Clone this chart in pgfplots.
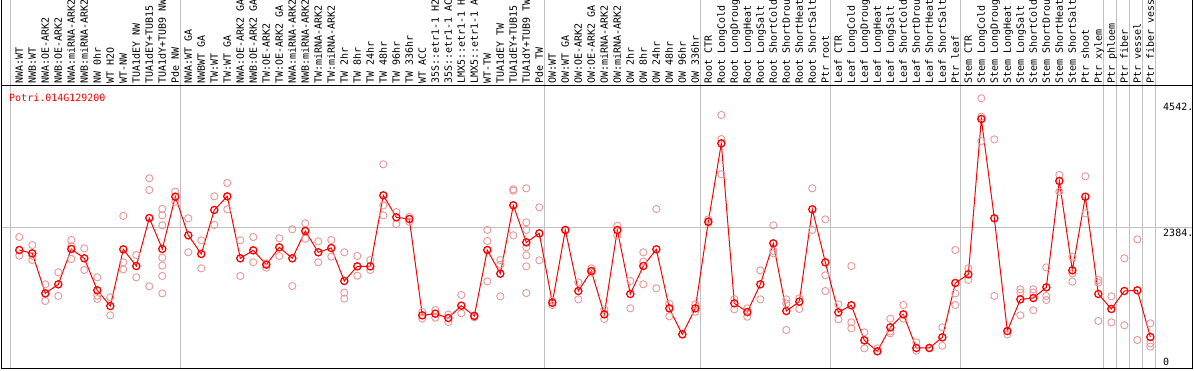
\documentclass[border=0pt]{standalone}
\usepackage{pgfplots}
\pgfplotsset{compat=1.18}
\usepackage{fontspec}
\newfontfamily\mono{DejaVu Sans Mono}
\definecolor{gridgray}{RGB}{192,192,192}
\definecolor{reppink}{RGB}{232,150,150}
\definecolor{meanred}{RGB}{255,0,0}
\begin{document}
\begin{tikzpicture}
% vertical group separators (full height)
\foreach \gx in {10.3,180.3,544.3,700.3,830.5,960.5,1103.3,1116.5,1129.4,1142.6,1155.4}{
  \draw[gridgray, line width=1pt] (\gx pt,1.5pt) -- (\gx pt,370pt);
}
\begin{axis}[
  at={(1.5pt,1.5pt)}, anchor=south west,
  scale only axis, width=1191pt, height=282.5pt,
  xmin=-1.369, xmax=90.246, ymin=-25.7, ymax=4819,
  xtick=\empty, ytick={2384}, yticklabels={},
  major tick length=0pt,
  ymajorgrids, grid style={draw=gridgray, line width=1pt},
  axis line style={line width=1pt, black},
  clip=false,
]
\addplot[only marks, mark=o, mark size=3.6pt, mark options={draw=reppink, line width=0.9pt}] coordinates {
(0,2229)(0,1909)
(1,2092)(1,1909)(1,1835)
(2,1418)(2,1132)(2,1263)
(3,1624)(3,1218)
(4,2178)(4,1852)(4,2070)
(5,2035)(5,1664)
(6,1538)(6,1223)(6,1166)
(7,1195)(7,886)
(8,2590)(8,1795)(8,1675)
(9,1921)(9,1538)
(10,3236)(10,3036)(10,1383)
(11,2710)(11,2601)(11,2430)(11,1875)(11,1738)(11,1561)(11,1263)
(12,3007)(12,2835)
(13,2550)(13,1967)
(14,2172)(14,1692)
(15,2927)(15,2435)
(16,3156)(16,2704)
(17,2172)(17,1561)
(18,2229)(18,1795)
(19,1778)(19,1704)
(20,2207)(20,1904)
(21,2361)(21,1389)
(22,2464)(22,2201)
(23,2155)(23,1795)
(24,2178)(24,1892)
(25,1967)(25,1275)(25,1172)
(26,1904)(26,1566)
(27,1835)(27,1664)
(28,3476)(28,2773)(28,2601)
(29,2658)(29,2452)
(30,2578)(30,2492)
(31,943)(31,829)
(32,978)(32,846)
(33,898)(33,772)
(34,1235)(34,920)
(35,886)(35,852)
(36,2350)(36,2161)(36,1469)
(37,1835)(37,1755)(37,1212)
(38,3047)(38,3024)(38,2258)
(39,3064)(39,2481)(39,2350)(39,2052)(39,1915)(39,1726)(39,1269)
(40,2738)(40,1829)
(41,1138)(41,1063)
(42,2350)
(43,1452)(43,1160)
(44,1692)(44,1620)
(45,989)(45,823)
(46,2424)(46,2252)
(47,1475)(47,1006)
(48,1967)(48,1806)(48,1418)
(49,2710)(49,1349)
(50,1086)(50,869)
(51,560)
(52,1075)(52,949)
(53,2532)(53,2470)
(54,4322)(54,3910)(54,3304)
(55,1166)(55,989)
(56,1006)(56,863)
(57,1658)(57,1160)
(58,2430)(58,1989)(58,1950)
(59,1160)(59,1086)(59,635)
(60,1178)(60,995)
(61,3064)(61,2350)
(62,2532)(62,1572)(62,1303)
(63,1075)(63,817)
(64,1732)(64,766)(64,663)
(65,595)(65,320)
(66,320)
(67,829)(67,577)(67,612)
(68,1063)(68,829)
(69,423)(69,280)
(70,326)
(71,680)(71,366)
(72,2006)(72,1263)(72,1063)
(73,1692)(73,1492)
(74,4608)(74,4293)(74,3876)
(75,3904)(75,1218)
(76,560)
(77,1332)(77,1275)(77,886)
(78,1332)(78,1275)(78,972)
(79,1709)(79,1218)(79,1149)
(80,3293)(80,3007)
(81,1892)(81,1606)(81,1463)
(82,3270)(82,2635)
(83,1492)(83,1446)(83,789)
(84,1212)(84,766)
(85,1864)(85,715)
(86,2189)(86,463)
(87,749)(87,406)(87,349)
};
\addplot[meanred, line width=1pt, mark=o, mark size=3.6pt, mark options={draw=meanred, line width=1.3pt}] coordinates {
(0,2006)(1,1949)(2,1263)(3,1418)(4,2024)(5,1864)(6,1315)(7,1046)(8,2018)(9,1732)
(10,2555)(11,2024)(12,2921)(13,2258)(14,1938)(15,2693)(16,2927)(17,1864)(18,2001)(19,1755)
(20,2052)(21,1864)(22,2332)(23,1967)(24,2041)(25,1475)(26,1726)(27,1726)(28,2944)(29,2567)
(30,2538)(31,886)(32,915)(33,840)(34,1052)(35,875)(36,2006)(37,1601)(38,2773)(39,2138)
(40,2292)(41,1103)(42,2350)(43,1303)(44,1646)(45,903)(46,2350)(47,1252)(48,1732)(49,2018)
(50,1006)(51,560)(52,1006)(53,2492)(54,3836)(55,1092)(56,943)(57,1418)(58,2121)(59,960)
(60,1120)(61,2704)(62,1795)(63,938)(64,1058)(65,457)(66,269)(67,680)(68,903)(69,326)
(70,326)(71,509)(72,1441)(73,1589)(74,4253)(75,2550)(76,617)(77,1160)(78,1183)(79,1366)
(80,3190)(81,1658)(82,2921)(83,1252)(84,995)(85,1303)(86,1315)(87,515)
};
\end{axis}
% outer borders (full height)
\draw[black, line width=1pt] (1.5pt,1.5pt) -- (1.5pt,370pt);
\draw[black, line width=1pt] (1192.5pt,1.5pt) -- (1192.5pt,370pt);
% title
\node[anchor=west, inner sep=0pt, text=meanred, font=\mono\fontsize{10}{12}\selectfont] at (9pt,272.5pt) {Potri.014G129200};
% value labels
\node[anchor=west, inner sep=0pt, font=\mono\fontsize{10}{12}\selectfont] at (1163pt,263pt) {4542.};
\node[anchor=west, inner sep=0pt, font=\mono\fontsize{10}{12}\selectfont] at (1163pt,137.3pt) {2384.};
\node[anchor=west, inner sep=0pt, font=\mono\fontsize{10}{12}\selectfont] at (1163pt,8.3pt) {0};
% category labels
\foreach \lab [count=\i from 0] in {NWA:WT,NWB:WT,NWA:OE-ARK2,NWB:OE-ARK2,NWA:miRNA-ARK2,NWB:miRNA-ARK2,NW 0hr,WT H2O,WT-NW,TUA1dEY NW,TUA1dEY+TUB15 NW,TUA1dY+TUB9 NW,Pde NW,
NWA:WT GA,NWBWT GA,TW:WT,TW:WT GA,NWA:OE-ARK2 GA,NWB:OE-ARK2 GA,TW:OE-ARK2,TW:OE-ARK2 GA,NWA:miRNA-ARK2 GA,NWB:miRNA-ARK2 GA,TW:miRNA-ARK2,TW:miRNA-ARK2 GA,TW 2hr,TW 8hr,TW 24hr,TW 48hr,TW 96hr,TW 336hr,WT ACC,35S::etr1-1 H2O,35S::etr1-1 ACC,LMX5::etr1-1 H2O,LMX5::etr1-1 ACC,WT-TW,TUA1dEY TW,TUA1dEY+TUB15 TW,TUA1dY+TUB9 TW,Pde TW,
OW:WT,OW:WT GA,OW:OE-ARK2,OW:OE-ARK2 GA,OW:miRNA-ARK2,OW:miRNA-ARK2 GA,OW 2hr,OW 8hr,OW 24hr,OW 48hr,OW 96hr,OW 336hr,
Root CTR,Root LongCold,Root LongDrought,Root LongHeat,Root LongSalt,Root ShortCold,Root ShortDrought,Root ShortHeat,Root ShortSalt,Ptr root,
Leaf CTR,Leaf LongCold,Leaf LongDrought,Leaf LongHeat,Leaf LongSalt,Leaf ShortCold,Leaf ShortDrought,Leaf ShortHeat,Leaf ShortSalt,Ptr leaf,
Stem CTR,Stem LongCold,Stem LongDrought,Stem LongHeat,Stem LongSalt,Stem ShortCold,Stem ShortDrought,Stem ShortHeat,Stem ShortSalt,Ptr shoot,
Ptr xylem,Ptr phloem,Ptr fiber,Ptr vessel,Ptr fiber vessel}{
  \node[rotate=90, anchor=base west, inner sep=0pt, font=\mono\fontsize{10}{12}\selectfont] at ({(19.3+13*\i+3.6)*1pt},286.5pt) {\lab};
}
\pgfresetboundingbox
\path[use as bounding box] (0pt,0pt) rectangle (1194pt,370pt);
\end{tikzpicture}
\end{document}
